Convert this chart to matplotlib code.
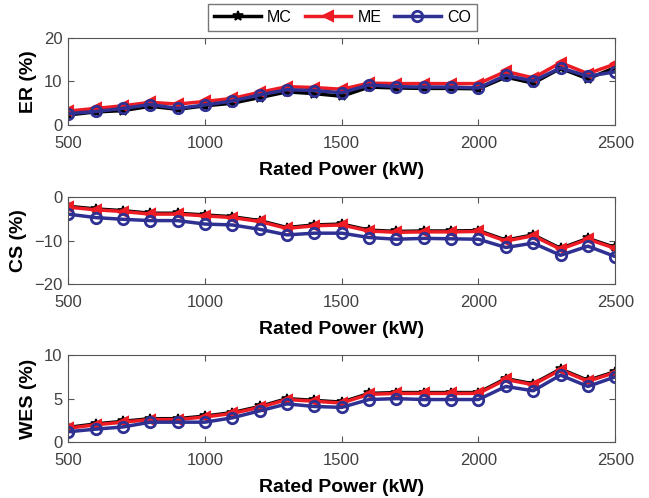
import matplotlib.pyplot as plt
import numpy as np

plt.rcParams['font.family'] = ['Liberation Sans', 'DejaVu Sans']

power = [500, 600, 700, 800, 900, 1000, 1100, 1200, 1300, 1400, 1500,
         1600, 1700, 1800, 1900, 2000, 2100, 2200, 2300, 2400, 2500]

# ER (%)
er_mc = [2.3, 3.0, 3.3, 4.3, 3.6, 4.4, 5.0, 6.3, 7.6, 7.2, 6.6,
         8.7, 8.5, 8.4, 8.4, 8.3, 11.0, 9.6, 13.0, 10.6, 13.2]
er_me = [3.2, 3.8, 4.4, 5.2, 4.8, 5.4, 6.1, 7.5, 8.8, 8.6, 8.2,
         9.6, 9.5, 9.5, 9.5, 9.5, 12.3, 10.8, 14.3, 11.8, 14.0]
er_co = [2.6, 3.1, 3.8, 4.7, 3.8, 4.6, 5.5, 6.9, 8.1, 7.9, 7.4,
         9.2, 8.8, 8.7, 8.7, 8.5, 11.4, 10.1, 13.1, 11.2, 12.2]

# CS (%)
cs_mc = [-2.1, -2.7, -3.1, -3.7, -3.7, -4.1, -4.5, -5.4, -7.0, -6.4, -6.2,
         -7.6, -7.9, -7.8, -7.8, -7.7, -9.9, -8.7, -11.8, -9.5, -11.6]
cs_me = [-2.3, -2.9, -3.3, -3.9, -3.9, -4.3, -4.7, -5.6, -7.2, -6.6, -6.4,
         -7.8, -8.1, -8.0, -8.0, -7.9, -10.1, -8.9, -12.0, -9.7, -11.8]
cs_co = [-3.9, -4.7, -5.1, -5.4, -5.4, -6.2, -6.4, -7.4, -8.7, -8.3, -8.3,
         -9.3, -9.7, -9.5, -9.6, -9.7, -11.6, -10.6, -13.4, -11.3, -13.7]

# WES (%)
wes_mc = [1.7, 2.1, 2.4, 2.7, 2.7, 3.0, 3.4, 4.1, 5.0, 4.8, 4.6,
          5.6, 5.7, 5.7, 5.7, 5.7, 7.3, 6.7, 8.4, 7.1, 8.1]
wes_me = [1.6, 2.0, 2.3, 2.6, 2.6, 2.9, 3.3, 4.0, 4.9, 4.7, 4.5,
          5.5, 5.6, 5.6, 5.6, 5.6, 7.2, 6.6, 8.3, 7.0, 8.0]
wes_co = [1.2, 1.5, 1.75, 2.3, 2.3, 2.3, 2.8, 3.6, 4.4, 4.1, 4.0,
          4.9, 5.0, 4.9, 4.9, 4.9, 6.4, 5.9, 7.7, 6.4, 7.5]

panels = [
    ('ER (%)', er_mc, er_me, er_co, (0, 20), [0, 10, 20]),
    ('CS (%)', cs_mc, cs_me, cs_co, (-20, 0), [-20, -10, 0]),
    ('WES (%)', wes_mc, wes_me, wes_co, (0, 10), [0, 5, 10]),
]
positions = [[0.105, 0.749, 0.843, 0.175],
             [0.105, 0.430, 0.843, 0.174],
             [0.105, 0.112, 0.843, 0.175]]

fig = plt.figure(figsize=(6.49, 4.98), dpi=100)

for pos, (ylab, mc, me, co, ylim, yt) in zip(positions, panels):
    ax = fig.add_axes(pos)
    l1, = ax.plot(power, mc, color='black', marker='*', lw=2.5, ms=7,
                  mew=1.2, label='MC')
    l2, = ax.plot(power, me, color='#ed1c24', marker='<', lw=2.5, ms=6.5,
                  mew=1.5, label='ME')
    l3, = ax.plot(power, co, color='#2e3192', marker='o', lw=2.5, ms=7.5,
                  mew=2, mfc='none', label='CO')
    ax.set_xlim(500, 2500)
    ax.set_ylim(*ylim)
    ax.set_xticks([500, 1000, 1500, 2000, 2500])
    ax.set_yticks(yt)
    ax.tick_params(axis='x', pad=8)
    ax.tick_params(axis='y', pad=4)
    ax.tick_params(direction='in', top=True, right=True, labelsize=12,
                   color='#555555', labelcolor='#404040', length=4)
    for s in ax.spines.values():
        s.set_color('#555555')
    ax.set_xlabel('Rated Power (kW)', fontsize=14, fontweight='bold', labelpad=8)
    ax.set_ylabel(ylab, fontsize=14, fontweight='bold', labelpad=5)

fig.legend(handles=[l1, l2, l3], loc='center', bbox_to_anchor=(0.528, 0.965),
           ncol=3, fontsize=11.5, frameon=True, fancybox=False, edgecolor='#555555',
           handlelength=2.9, columnspacing=0.8, handletextpad=0.4, borderpad=0.4)

fig.savefig('out.png', dpi=100)
